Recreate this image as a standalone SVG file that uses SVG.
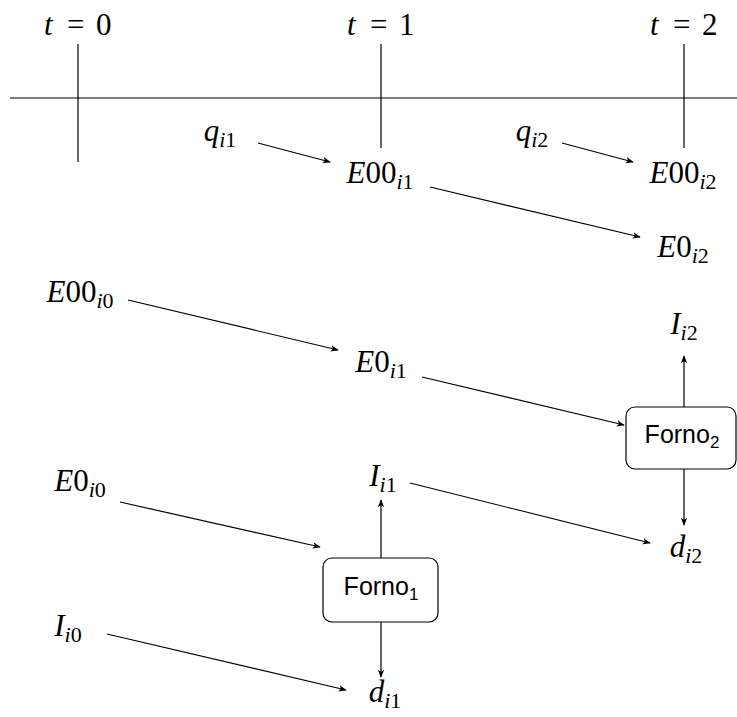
<svg xmlns="http://www.w3.org/2000/svg" width="737" height="717" viewBox="0 0 737 717">
<style>
.m{font-family:"Liberation Serif","DejaVu Serif",serif;font-size:31px;fill:#000}
.i{font-style:italic}
.s{font-size:22px}
.f{font-family:"Liberation Sans","DejaVu Sans",sans-serif;font-size:25px;fill:#000}
.fs{font-size:17px}
.ln{stroke:#000;stroke-width:1.2;fill:none}
.box{stroke:#000;stroke-width:1.2;fill:#fff}
</style>
<defs>
<marker id="ah" viewBox="0 0 10 10" refX="9" refY="5" markerWidth="8" markerHeight="8" markerUnits="userSpaceOnUse" orient="auto">
<path d="M0,1 L10,5 L0,9 L2.5,5 Z" fill="#000"/>
</marker>
</defs>
<g id="timeline">
<line class="ln" x1="10" y1="98" x2="737" y2="98"/>
<line class="ln" x1="78" y1="44" x2="78" y2="162"/>
<line class="ln" x1="381" y1="44" x2="381" y2="148"/>
<line class="ln" x1="684" y1="44" x2="684" y2="148"/>
<text class="m" y="35"><tspan class="i" x="44">t</tspan><tspan x="67">=</tspan><tspan x="96">0</tspan></text>
<text class="m" y="35"><tspan class="i" x="347">t</tspan><tspan x="370">=</tspan><tspan x="399">1</tspan></text>
<text class="m" y="35"><tspan class="i" x="650">t</tspan><tspan x="673">=</tspan><tspan x="702">2</tspan></text>
</g>
<g id="q_i1"><text class="m" x="220" y="141" text-anchor="middle"><tspan class="i">q</tspan><tspan class="s" dy="6"><tspan class="i">i</tspan>1</tspan></text></g>
<g id="q_i2"><text class="m" x="532" y="141" text-anchor="middle"><tspan class="i">q</tspan><tspan class="s" dy="6"><tspan class="i">i</tspan>2</tspan></text></g>
<g id="E00_i1"><text class="m" x="380" y="183" text-anchor="middle"><tspan class="i">E</tspan>00<tspan class="s" dy="6"><tspan class="i">i</tspan>1</tspan></text></g>
<g id="E00_i2"><text class="m" x="683" y="183" text-anchor="middle"><tspan class="i">E</tspan>00<tspan class="s" dy="6"><tspan class="i">i</tspan>2</tspan></text></g>
<g id="E0_i2"><text class="m" x="683" y="257" text-anchor="middle"><tspan class="i">E</tspan>0<tspan class="s" dy="6"><tspan class="i">i</tspan>2</tspan></text></g>
<g id="E00_i0"><text class="m" x="80" y="302" text-anchor="middle"><tspan class="i">E</tspan>00<tspan class="s" dy="6"><tspan class="i">i</tspan>0</tspan></text></g>
<g id="E0_i1"><text class="m" x="381" y="372" text-anchor="middle"><tspan class="i">E</tspan>0<tspan class="s" dy="6"><tspan class="i">i</tspan>1</tspan></text></g>
<g id="I_i2"><text class="m" x="684" y="334" text-anchor="middle"><tspan class="i">I</tspan><tspan class="s" dy="6"><tspan class="i">i</tspan>2</tspan></text></g>
<g id="Forno2">
<rect class="box" x="626" y="407" width="110" height="62" rx="9"/>
<text class="f" x="682" y="443" text-anchor="middle">Forno<tspan class="fs" dy="5">2</tspan></text>
</g>
<g id="d_i2"><text class="m" x="686" y="557" text-anchor="middle"><tspan class="i">d</tspan><tspan class="s" dy="6"><tspan class="i">i</tspan>2</tspan></text></g>
<g id="I_i1"><text class="m" x="383" y="486" text-anchor="middle"><tspan class="i">I</tspan><tspan class="s" dy="6"><tspan class="i">i</tspan>1</tspan></text></g>
<g id="E0_i0"><text class="m" x="80" y="491" text-anchor="middle"><tspan class="i">E</tspan>0<tspan class="s" dy="6"><tspan class="i">i</tspan>0</tspan></text></g>
<g id="Forno1">
<rect class="box" x="323" y="558" width="115" height="64" rx="9"/>
<text class="f" x="381" y="595" text-anchor="middle">Forno<tspan class="fs" dy="5">1</tspan></text>
</g>
<g id="I_i0"><text class="m" x="68" y="636" text-anchor="middle"><tspan class="i">I</tspan><tspan class="s" dy="6"><tspan class="i">i</tspan>0</tspan></text></g>
<g id="d_i1"><text class="m" x="385" y="702" text-anchor="middle"><tspan class="i">d</tspan><tspan class="s" dy="6"><tspan class="i">i</tspan>1</tspan></text></g>
<g id="connectors">
<line class="ln" x1="258" y1="143" x2="330" y2="162" marker-end="url(#ah)"/>
<line class="ln" x1="562" y1="143" x2="633" y2="162" marker-end="url(#ah)"/>
<line class="ln" x1="430" y1="187" x2="640" y2="237" marker-end="url(#ah)"/>
<line class="ln" x1="128" y1="300" x2="338" y2="350" marker-end="url(#ah)"/>
<line class="ln" x1="422" y1="377" x2="624" y2="425" marker-end="url(#ah)"/>
<line class="ln" x1="684" y1="407" x2="684" y2="356" marker-end="url(#ah)"/>
<line class="ln" x1="684" y1="469" x2="684" y2="525" marker-end="url(#ah)"/>
<line class="ln" x1="410" y1="483" x2="650" y2="543" marker-end="url(#ah)"/>
<line class="ln" x1="381" y1="558" x2="381" y2="500" marker-end="url(#ah)"/>
<line class="ln" x1="381" y1="622" x2="381" y2="677" marker-end="url(#ah)"/>
<line class="ln" x1="120" y1="502" x2="320" y2="547" marker-end="url(#ah)"/>
<line class="ln" x1="107" y1="634" x2="346" y2="690" marker-end="url(#ah)"/>
</g>
</svg>
